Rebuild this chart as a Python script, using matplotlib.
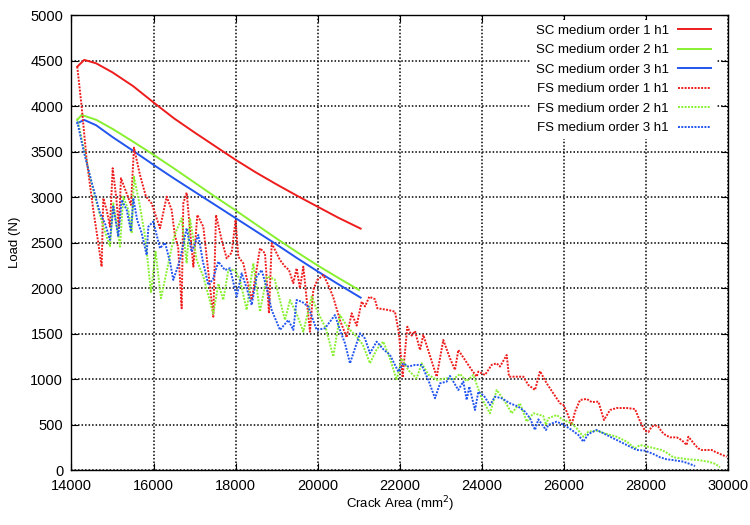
import matplotlib
matplotlib.use('Agg')
import matplotlib.pyplot as plt

plt.rcParams['font.family'] = ['Liberation Sans', 'DejaVu Sans']
plt.rcParams['font.size'] = 10.5

# SC curves (solid)
sc1_x = [14141, 14312, 14600, 15000, 15500, 16000, 16500, 17000, 17500, 18000, 18500, 19000, 19500, 20000, 20500, 21047]
sc1_y = [4433, 4507, 4470, 4370, 4220, 4040, 3865, 3710, 3560, 3410, 3270, 3140, 3015, 2895, 2775, 2655]

sc2_x = [14141, 14248, 14600, 15000, 15500, 16000, 16500, 17000, 17500, 18000, 18500, 19000, 19500, 20000, 20500, 21006]
sc2_y = [3848, 3903, 3850, 3750, 3610, 3465, 3315, 3160, 3005, 2855, 2700, 2545, 2395, 2250, 2115, 1981]

sc3_x = [14141, 14312, 14600, 15000, 15500, 16000, 16500, 17000, 17500, 18000, 18500, 19000, 19500, 20000, 20500, 21047]
sc3_y = [3812, 3848, 3790, 3660, 3510, 3355, 3205, 3060, 2915, 2770, 2625, 2480, 2330, 2185, 2045, 1897]

# FS curves (dotted)
fs1_x = [14141, 14248, 14370, 14532, 14654, 14735, 14776, 14857, 14938, 15004, 15090, 15155, 15206, 15345,
         15450, 15523, 15670, 15815, 15953, 16035, 16157, 16320, 16441, 16520, 16600, 16685, 16725, 16807,
         16970, 17067, 17213, 17456, 17522, 17660, 17782, 17904, 18000, 18065, 18187, 18391, 18594, 18716,
         18813, 18879, 19081, 19200, 19300, 19406, 19487, 19568, 19650, 19812, 19893, 19990, 20140, 20258,
         20381, 20543, 20706, 20828, 20950, 21072, 21153, 21258, 21395, 21453, 21721, 21883, 21981, 22070,
         22184, 22291, 22372, 22494, 22574, 22900, 23061, 23224, 23346, 23427, 23590, 23753, 23875, 23915,
         24077, 24240, 24362, 24443, 24606, 24662, 24809, 25012, 25134, 25297, 25418, 25580, 25742, 25905,
         25986, 26068, 26190, 26271, 26393, 26556, 26677, 26840, 26977, 27124, 27286, 27530, 27733, 27855,
         27977, 28058, 28139, 28220, 28302, 28383, 28464, 28586, 28749, 28870, 28992, 29033, 29114, 29196,
         29277, 29358, 29602, 29683, 29805, 29967]
fs1_y = [4433, 3994, 3409, 2860, 2494, 2237, 2988, 2860, 2676, 3318, 3000, 2660, 3208, 3043,
         2915, 3544, 3244, 3006, 2932, 2823, 2659, 3006, 2860, 2580, 2450, 1780, 2933, 3050,
         2237, 2805, 2676, 1688, 2805, 2530, 2329, 2390, 2750, 2347, 2274, 1871, 2439, 2384,
         1725, 2494, 2310, 2240, 2200, 2055, 2219, 2000, 2237, 1523, 1981, 2090, 2146, 2036,
         1900, 1650, 1460, 1725, 1590, 1853, 1800, 1907, 1880, 1780, 1761, 1743, 1505, 1020,
         1578, 1480, 1530, 1322, 1487, 1029, 1432, 1231, 1103, 1322, 1212, 1103, 1029, 1085,
         1048, 1158, 1176, 1140, 1267, 1029, 1029, 1029, 938, 883, 1090, 956, 847, 737,
         720, 645, 499, 645, 773, 785, 750, 755, 553, 663, 685, 685, 674, 540,
         435, 420, 480, 495, 480, 425, 392, 363, 363, 333, 279, 370, 326, 279,
         242, 224, 224, 205, 180, 150]

fs2_x = [14141, 14288, 14451, 14614, 14776, 14938, 15019, 15100, 15182, 15263, 15385, 15467, 15523, 15670,
         15800, 15937, 16050, 16181, 16481, 16563, 16685, 16807, 16888, 17051, 17213, 17456, 17580, 17700,
         17822, 17985, 18108, 18269, 18431, 18594, 18757, 18950, 19203, 19325, 19487, 19650, 19853, 20015,
         20200, 20380, 20543, 20750, 20950, 21100, 21274, 21440, 21599, 21760, 21925, 22047, 22210, 22412,
         22534, 22700, 22900, 23142, 23300, 23467, 23630, 23792, 23996, 24199, 24362, 24565, 24728, 24931,
         25093, 25256, 25418, 25499, 25565, 25620, 25824, 25986, 26190, 26312, 26474, 26596, 26800, 27043,
         27286, 27530, 27733, 27855, 28099, 28383, 28520, 28667, 29033, 29277, 29521, 29700, 29804]
fs2_y = [3866, 3555, 3225, 2933, 2676, 2460, 2933, 2700, 2457, 3006, 2860, 2604, 3225, 2897,
         2550, 1950, 2400, 1890, 2530, 2640, 2768, 2274, 2768, 2310, 2128, 1720, 2050, 1871,
         2200, 2200, 2090, 1761, 2274, 1743, 2128, 2100, 1651, 1871, 1720, 1523, 1908, 1725,
         1560, 1249, 1706, 1560, 1468, 1380, 1176, 1330, 1414, 1230, 993, 1231, 1100, 1011,
         1176, 1050, 993, 1011, 1000, 1059, 980, 1048, 792, 627, 883, 755, 627, 737,
         535, 627, 608, 597, 500, 572, 608, 553, 517, 462, 370, 425, 436, 400,
         370, 316, 242, 279, 255, 224, 190, 144, 122, 113, 96, 70, 34]

fs3_x = [14141, 14300, 14500, 14695, 14816, 14938, 15019, 15141, 15223, 15345, 15450, 15507, 15600, 15711,
         15832, 15873, 15994, 16157, 16280, 16400, 16481, 16644, 16807, 16929, 17091, 17200, 17334, 17450,
         17578, 17740, 17863, 18026, 18148, 18270, 18391, 18513, 18635, 18760, 18879, 19081, 19284, 19406,
         19487, 19620, 19772, 19975, 20178, 20421, 20543, 20665, 20787, 21031, 21150, 21274, 21437, 21600,
         21762, 21965, 22087, 22209, 22372, 22534, 22696, 22859, 22981, 23143, 23224, 23427, 23549, 23631,
         23696, 23834, 23915, 24050, 24199, 24321, 24484, 24687, 24890, 25052, 25174, 25296, 25377, 25564,
         25620, 25824, 26000, 26190, 26353, 26474, 26596, 26800, 27043, 27286, 27530, 27774, 27977, 28180,
         28343, 28505, 28667, 28911, 29074, 29196]
fs3_y = [3830, 3500, 3150, 2823, 2713, 2530, 2897, 2567, 2970, 2860, 2622, 2988, 2750, 2604,
         2365, 2676, 2731, 2439, 2500, 2292, 2091, 2310, 2659, 2400, 2585, 2300, 2036, 2100,
         2292, 2200, 2220, 1908, 2164, 2000, 1816, 2128, 2200, 2000, 1761, 1542, 1651, 1542,
         1871, 1850, 1798, 1542, 1560, 1706, 1542, 1395, 1176, 1505, 1450, 1286, 1414, 1330,
         1268, 1084, 1176, 1140, 1158, 1158, 993, 792, 956, 975, 1037, 883, 975, 773,
         920, 663, 865, 820, 718, 810, 792, 737, 700, 645, 572, 444, 560, 444,
         500, 535, 500, 444, 389, 315, 400, 444, 389, 334, 279, 224, 217, 180,
         144, 122, 113, 96, 70, 48]

red = '#ee1c1c'
green = '#88f030'
blue = '#2255ee'
dots = (0, (1.0, 0.7))

fig = plt.figure(figsize=(7.5, 5.25), dpi=100)
ax = fig.add_axes([0.0953, 0.104, 0.8754, 0.8674])

ax.plot(sc1_x, sc1_y, color=red, linewidth=1.4, label='SC medium order 1 h1')
ax.plot(sc2_x, sc2_y, color=green, linewidth=1.4, label='SC medium order 2 h1')
ax.plot(sc3_x, sc3_y, color=blue, linewidth=1.4, label='SC medium order 3 h1')
ax.plot(fs1_x, fs1_y, color=red, linewidth=1.4, linestyle=dots, label='FS medium order 1 h1')
ax.plot(fs2_x, fs2_y, color=green, linewidth=1.4, linestyle=dots, label='FS medium order 2 h1')
ax.plot(fs3_x, fs3_y, color=blue, linewidth=1.4, linestyle=dots, label='FS medium order 3 h1')

ax.set_xlim(14000, 30000)
ax.set_ylim(0, 5000)
ax.set_xticks(range(14000, 30001, 2000))
ax.set_yticks(range(0, 5001, 500))
ax.grid(True, color='black', linestyle=(0, (1, 1.3)), linewidth=1.1)
ax.set_axisbelow(True)
ax.tick_params(direction='in', length=5, top=True, right=True, width=0.8)
ax.tick_params(axis='x', pad=6)
ax.tick_params(axis='y', pad=6)
for spine in ax.spines.values():
    spine.set_linewidth(1.0)

ax.set_xlabel('Crack Area (mm$^2$)', fontsize=9.5, labelpad=1)
ax.set_ylabel('Load (N)', fontsize=9.5, labelpad=7)

leg = ax.legend(loc='upper right', bbox_to_anchor=(1 - 12.4 / 656.5, 1 - 5 / 455),
                markerfirst=False, handlelength=2.5, labelspacing=0.55,
                borderaxespad=0, borderpad=0.35, fancybox=False, framealpha=1.0,
                facecolor='white', edgecolor='none', handletextpad=0.7, fontsize=9.5)

fig.savefig('out.png', dpi=100)
